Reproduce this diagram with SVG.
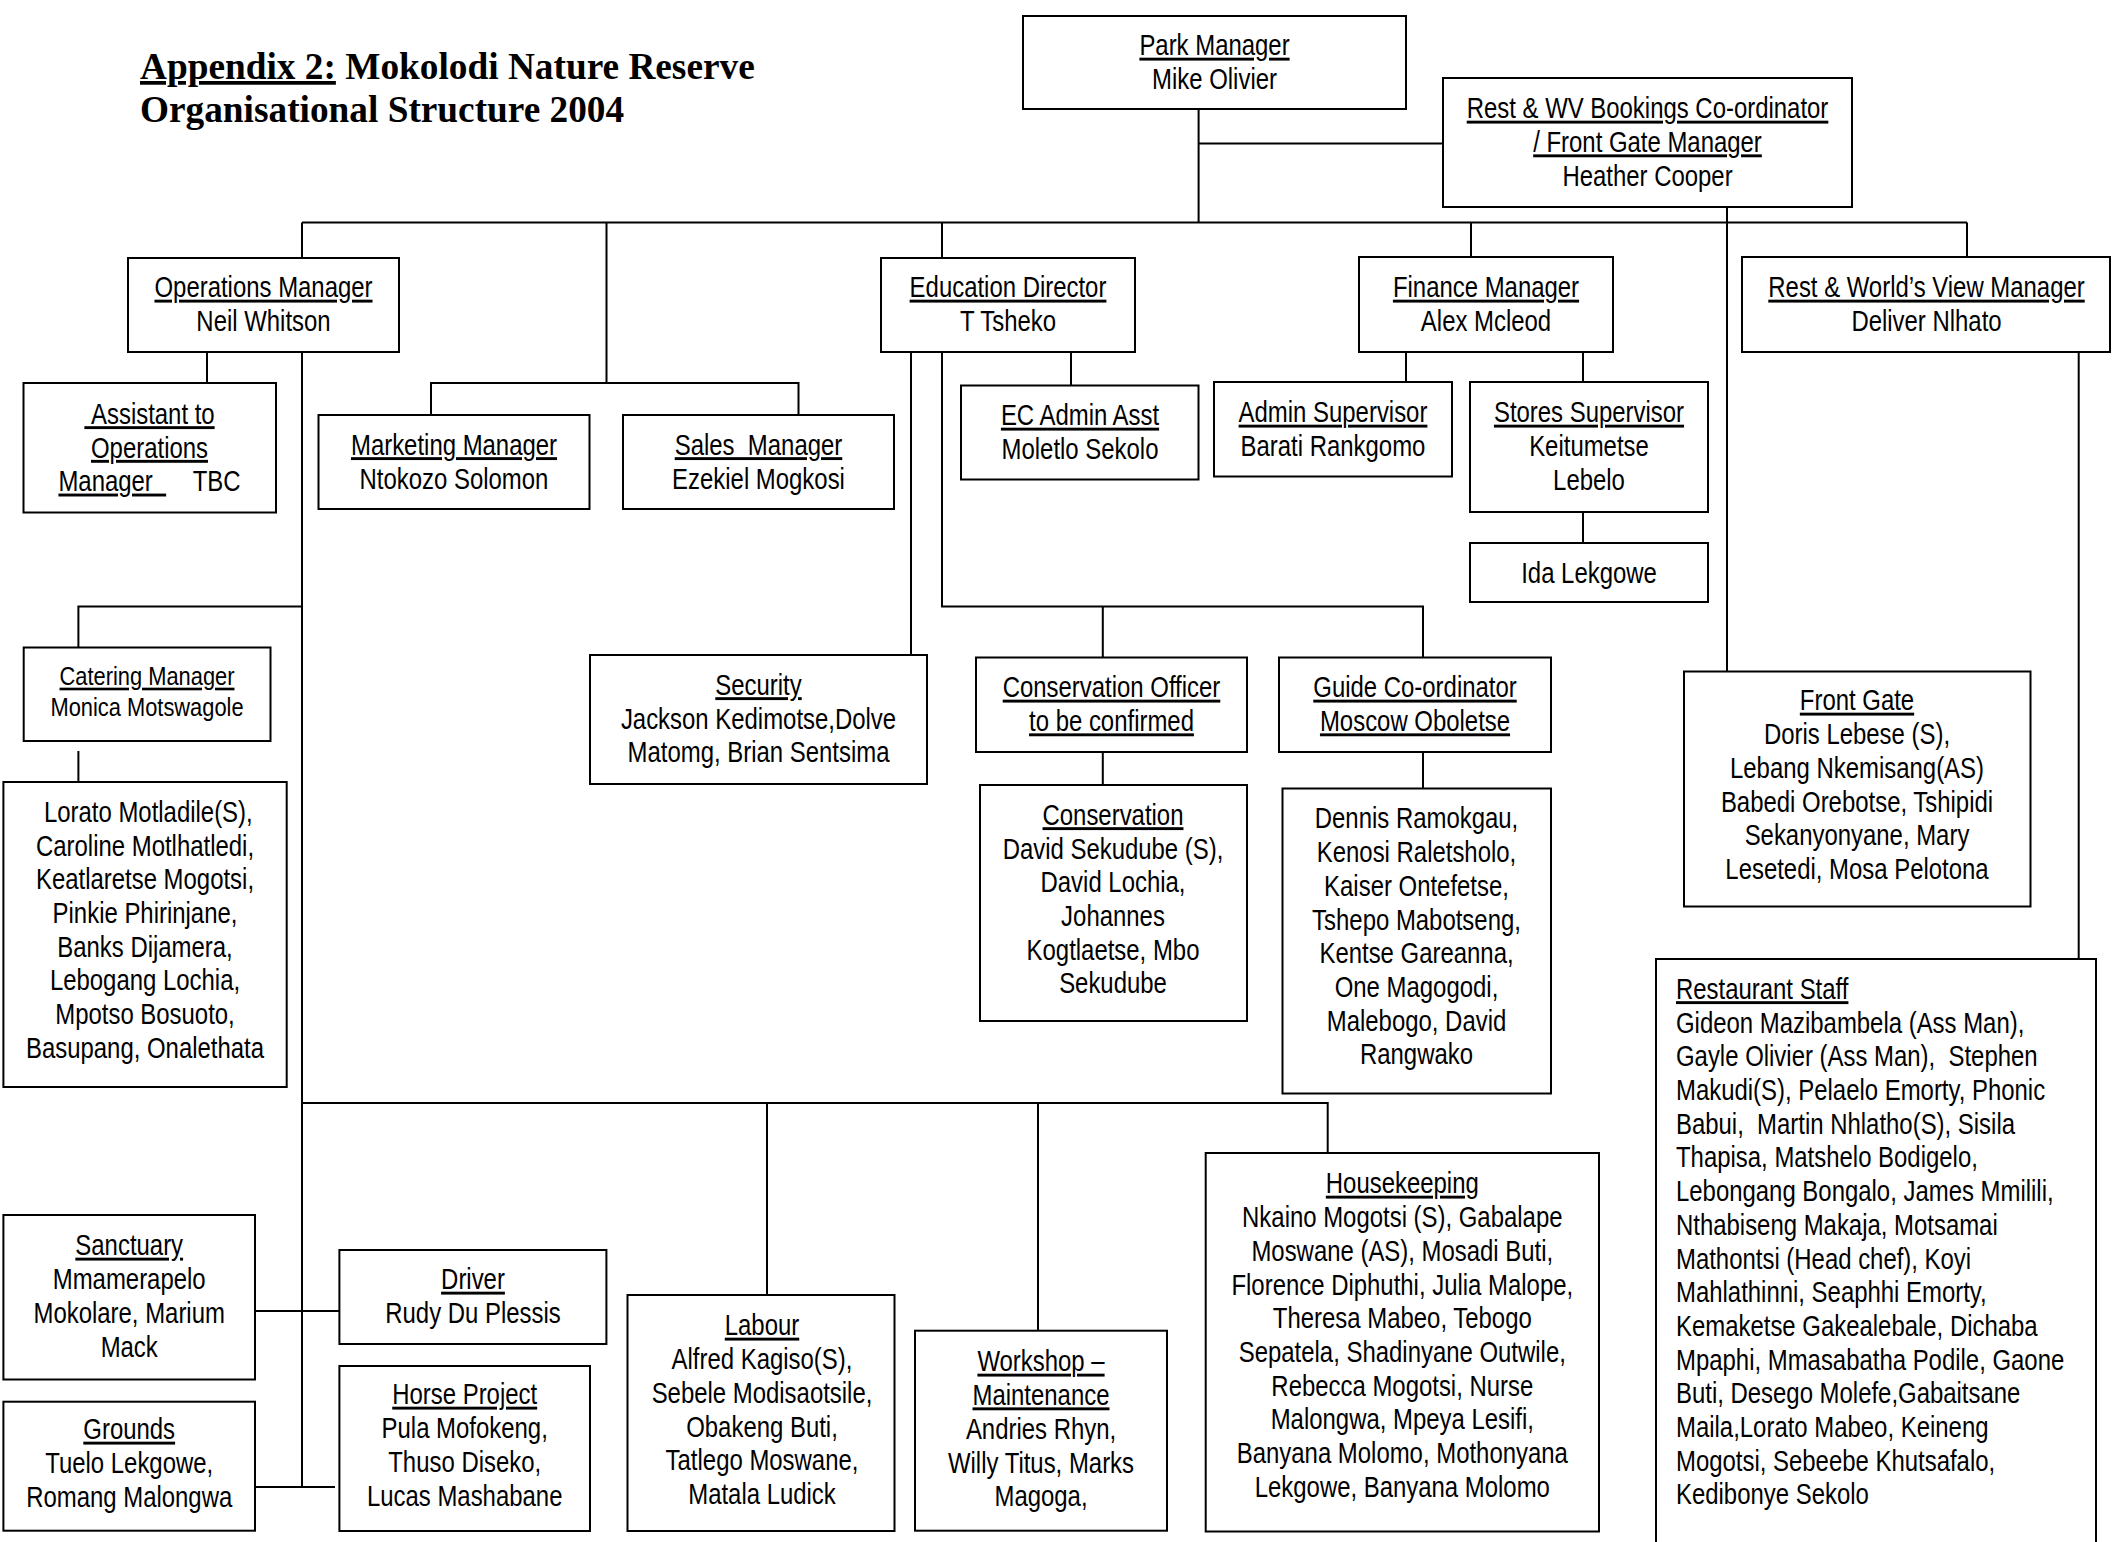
<svg xmlns="http://www.w3.org/2000/svg" width="2112" height="1542" viewBox="0 0 2112 1542">
<style>
.b{fill:#fff;stroke:#000;stroke-width:2}
.t{font-family:"Liberation Sans",Arial,sans-serif;font-size:29px;fill:#000;text-anchor:middle}
.l{text-anchor:start}
.s{font-size:26.5px}
.u{text-decoration:underline}
.ttl{font-family:"Liberation Serif","Times New Roman",serif;font-weight:bold;font-size:37.3px;fill:#000}
#connectors path{fill:none;stroke:#000;stroke-width:2}
</style>
<rect width="2112" height="1542" fill="#fff"/>
<g id="title">
<text class="ttl" x="140" y="79"><tspan class="u">Appendix 2:</tspan> Mokolodi Nature Reserve</text>
<text class="ttl" x="140" y="122">Organisational Structure 2004</text>
</g>
<g id="connectors">
<path d="M1198.6 109V222.5M1198.6 143.6H1443"/>
<path d="M302 222.5H1967"/>
<path d="M302 222.5V1487"/>
<path d="M606.5 222.5V383M431 415V383H798.5V415"/>
<path d="M942 222.5V258M1471 222.5V257M1967 222.5V257"/>
<path d="M1727 207V671"/>
<path d="M207 352V383"/>
<path d="M78.4 648V606.4H302M78.4 751V782"/>
<path d="M911 352V655"/>
<path d="M942 352V606.4H1423V657.5M1102.8 606.4V657.5"/>
<path d="M1071 352V385.5"/>
<path d="M1406 352V382M1583 352V382M1583 512V543"/>
<path d="M1102.8 752V785M1423 752V788.5"/>
<path d="M2078.7 352V959"/>
<path d="M302 1103H1327.7V1153M767 1103V1295M1038 1103V1330.7"/>
<path d="M252.7 1311H342.7M255 1487H335"/>
</g>
<g id="park-manager">
<rect class="b" x="1023" y="16" width="383" height="93"/>
<g transform="translate(1214.5 0) scale(0.825 1)">
<text class="t u" x="0" y="55.5">Park Manager</text>
<text class="t" x="0" y="89.2">Mike Olivier</text>
</g>
</g>
<g id="rest-wv-bookings">
<rect class="b" x="1443" y="78" width="409" height="129"/>
<g transform="translate(1647.5 0) scale(0.825 1)">
<text class="t u" x="0" y="118.5">Rest &amp; WV Bookings Co-ordinator</text>
<text class="t u" x="0" y="152.2">/ Front Gate Manager</text>
<text class="t" x="0" y="185.9">Heather Cooper</text>
</g>
</g>
<g id="operations-manager">
<rect class="b" x="128" y="258" width="271" height="94"/>
<g transform="translate(263.5 0) scale(0.825 1)">
<text class="t u" x="0" y="297.5">Operations Manager</text>
<text class="t" x="0" y="331.2">Neil Whitson</text>
</g>
</g>
<g id="education-director">
<rect class="b" x="881" y="258" width="254" height="94"/>
<g transform="translate(1008 0) scale(0.825 1)">
<text class="t u" x="0" y="297.5">Education Director</text>
<text class="t" x="0" y="331.2">T Tsheko</text>
</g>
</g>
<g id="finance-manager">
<rect class="b" x="1359" y="257" width="254" height="95"/>
<g transform="translate(1486 0) scale(0.825 1)">
<text class="t u" x="0" y="297.5">Finance Manager</text>
<text class="t" x="0" y="331.2">Alex Mcleod</text>
</g>
</g>
<g id="rest-worlds-view-manager">
<rect class="b" x="1742" y="257" width="368" height="95"/>
<g transform="translate(1926.5 0) scale(0.825 1)">
<text class="t u" x="0" y="297.5">Rest &amp; World’s View Manager</text>
<text class="t" x="0" y="331.2">Deliver Nlhato</text>
</g>
</g>
<g id="assistant-ops">
<rect class="b" x="23.5" y="383" width="252.5" height="129.5"/>
<g transform="translate(149.5 0) scale(0.825 1)">
<text class="t u" x="0" y="424">&#160;Assistant to</text>
<text class="t u" x="0" y="457.7">Operations</text>
<text class="t" x="0" y="491.4"><tspan class="u">Manager&#160;&#160;</tspan>&#160;&#160;&#160;&#160;TBC</text>
</g>
</g>
<g id="marketing-manager">
<rect class="b" x="318.5" y="415" width="271" height="94"/>
<g transform="translate(454 0) scale(0.825 1)">
<text class="t u" x="0" y="455">Marketing Manager</text>
<text class="t" x="0" y="488.7">Ntokozo Solomon</text>
</g>
</g>
<g id="sales-manager">
<rect class="b" x="623" y="415" width="271" height="94"/>
<g transform="translate(758.5 0) scale(0.825 1)">
<text class="t u" x="0" y="455">Sales&#160; Manager</text>
<text class="t" x="0" y="488.7">Ezekiel Mogkosi</text>
</g>
</g>
<g id="ec-admin-asst">
<rect class="b" x="961" y="385.5" width="237.5" height="94"/>
<g transform="translate(1080 0) scale(0.825 1)">
<text class="t u" x="0" y="425.5">EC Admin Asst</text>
<text class="t" x="0" y="459.2">Moletlo Sekolo</text>
</g>
</g>
<g id="admin-supervisor">
<rect class="b" x="1214" y="382" width="238" height="94.5"/>
<g transform="translate(1333 0) scale(0.825 1)">
<text class="t u" x="0" y="422.5">Admin Supervisor</text>
<text class="t" x="0" y="456.2">Barati Rankgomo</text>
</g>
</g>
<g id="stores-supervisor">
<rect class="b" x="1470" y="382" width="238" height="130"/>
<g transform="translate(1589 0) scale(0.825 1)">
<text class="t u" x="0" y="422.5">Stores Supervisor</text>
<text class="t" x="0" y="456.2">Keitumetse</text>
<text class="t" x="0" y="489.9">Lebelo</text>
</g>
</g>
<g id="ida-lekgowe">
<rect class="b" x="1470" y="543" width="238" height="59"/>
<g transform="translate(1589 0) scale(0.825 1)">
<text class="t" x="0" y="583.5">Ida Lekgowe</text>
</g>
</g>
<g id="catering-manager">
<rect class="b" x="23.7" y="647.5" width="246.8" height="93.5"/>
<g transform="translate(147 0) scale(0.825 1)">
<text class="t s u" x="0" y="685.5">Catering Manager</text>
<text class="t s" x="0" y="716">Monica Motswagole</text>
</g>
</g>
<g id="catering-staff">
<rect class="b" x="3.4" y="782" width="283.3" height="305"/>
<g transform="translate(145 0) scale(0.825 1)">
<text class="t" x="0" y="822">&#160;Lorato Motladile(S),</text>
<text class="t" x="0" y="855.7">Caroline Motlhatledi,</text>
<text class="t" x="0" y="889.4">Keatlaretse Mogotsi,</text>
<text class="t" x="0" y="923.1">Pinkie Phirinjane,</text>
<text class="t" x="0" y="956.8">Banks Dijamera,</text>
<text class="t" x="0" y="990.5">Lebogang Lochia,</text>
<text class="t" x="0" y="1024.2">Mpotso Bosuoto,</text>
<text class="t" x="0" y="1057.9">Basupang, Onalethata</text>
</g>
</g>
<g id="security">
<rect class="b" x="590" y="655" width="337" height="129"/>
<g transform="translate(758.5 0) scale(0.825 1)">
<text class="t u" x="0" y="695">Security</text>
<text class="t" x="0" y="728.7">Jackson Kedimotse,Dolve</text>
<text class="t" x="0" y="762.4">Matomg, Brian Sentsima</text>
</g>
</g>
<g id="conservation-officer">
<rect class="b" x="976" y="657.5" width="271" height="94.5"/>
<g transform="translate(1111.5 0) scale(0.825 1)">
<text class="t u" x="0" y="697.5">Conservation Officer</text>
<text class="t u" x="0" y="731.2">to be confirmed</text>
</g>
</g>
<g id="guide-coordinator">
<rect class="b" x="1279" y="657.5" width="272" height="94.5"/>
<g transform="translate(1415 0) scale(0.825 1)">
<text class="t u" x="0" y="697.5">Guide Co-ordinator</text>
<text class="t u" x="0" y="731.2">Moscow Oboletse</text>
</g>
</g>
<g id="conservation">
<rect class="b" x="980" y="785" width="267" height="236"/>
<g transform="translate(1113 0) scale(0.825 1)">
<text class="t u" x="0" y="825">Conservation</text>
<text class="t" x="0" y="858.7">David Sekudube (S),</text>
<text class="t" x="0" y="892.4">David Lochia,</text>
<text class="t" x="0" y="926.1">Johannes</text>
<text class="t" x="0" y="959.8">Kogtlaetse, Mbo</text>
<text class="t" x="0" y="993.5">Sekudube</text>
</g>
</g>
<g id="guides">
<rect class="b" x="1282.5" y="788.5" width="268.5" height="305"/>
<g transform="translate(1416.5 0) scale(0.825 1)">
<text class="t" x="0" y="828.5">Dennis Ramokgau,</text>
<text class="t" x="0" y="862.2">Kenosi Raletsholo,</text>
<text class="t" x="0" y="895.9">Kaiser Ontefetse,</text>
<text class="t" x="0" y="929.6">Tshepo Mabotseng,</text>
<text class="t" x="0" y="963.3">Kentse Gareanna,</text>
<text class="t" x="0" y="997">One Magogodi,</text>
<text class="t" x="0" y="1030.7">Malebogo, David</text>
<text class="t" x="0" y="1064.4">Rangwako</text>
</g>
</g>
<g id="front-gate">
<rect class="b" x="1684" y="671.5" width="346.5" height="235"/>
<g transform="translate(1857 0) scale(0.825 1)">
<text class="t u" x="0" y="710.5">Front Gate</text>
<text class="t" x="0" y="744.2">Doris Lebese (S),</text>
<text class="t" x="0" y="777.9">Lebang Nkemisang(AS)</text>
<text class="t" x="0" y="811.6">Babedi Orebotse, Tshipidi</text>
<text class="t" x="0" y="845.3">Sekanyonyane, Mary</text>
<text class="t" x="0" y="879">Lesetedi, Mosa Pelotona</text>
</g>
</g>
<g id="restaurant-staff">
<rect class="b" x="1656" y="959" width="440" height="620"/>
<g transform="translate(1676 0) scale(0.825 1)">
<text class="t l u" x="0" y="999">Restaurant Staff</text>
<text class="t l" x="0" y="1032.7">Gideon Mazibambela (Ass Man),</text>
<text class="t l" x="0" y="1066.4">Gayle Olivier (Ass Man),&#160; Stephen</text>
<text class="t l" x="0" y="1100.1">Makudi(S), Pelaelo Emorty, Phonic</text>
<text class="t l" x="0" y="1133.8">Babui,&#160; Martin Nhlatho(S), Sisila</text>
<text class="t l" x="0" y="1167.5">Thapisa, Matshelo Bodigelo,</text>
<text class="t l" x="0" y="1201.2">Lebongang Bongalo, James Mmilili,</text>
<text class="t l" x="0" y="1234.9">Nthabiseng Makaja, Motsamai</text>
<text class="t l" x="0" y="1268.6">Mathontsi (Head chef), Koyi</text>
<text class="t l" x="0" y="1302.3">Mahlathinni, Seaphhi Emorty,</text>
<text class="t l" x="0" y="1336">Kemaketse Gakealebale, Dichaba</text>
<text class="t l" x="0" y="1369.7">Mpaphi, Mmasabatha Podile, Gaone</text>
<text class="t l" x="0" y="1403.4">Buti, Desego Molefe,Gabaitsane</text>
<text class="t l" x="0" y="1437.1">Maila,Lorato Mabeo, Keineng</text>
<text class="t l" x="0" y="1470.8">Mogotsi, Sebeebe Khutsafalo,</text>
<text class="t l" x="0" y="1504.5">Kedibonye Sekolo</text>
</g>
</g>
<g id="sanctuary">
<rect class="b" x="3.4" y="1215" width="251.6" height="164.5"/>
<g transform="translate(129.2 0) scale(0.825 1)">
<text class="t u" x="0" y="1255.5">Sanctuary</text>
<text class="t" x="0" y="1289.2">Mmamerapelo</text>
<text class="t" x="0" y="1322.9">Mokolare, Marium</text>
<text class="t" x="0" y="1356.6">Mack</text>
</g>
</g>
<g id="grounds">
<rect class="b" x="3.4" y="1401.7" width="251.6" height="129"/>
<g transform="translate(129.2 0) scale(0.825 1)">
<text class="t u" x="0" y="1439.5">Grounds</text>
<text class="t" x="0" y="1473.2">Tuelo Lekgowe,</text>
<text class="t" x="0" y="1506.9">Romang Malongwa</text>
</g>
</g>
<g id="driver">
<rect class="b" x="339.4" y="1250" width="267" height="94"/>
<g transform="translate(473 0) scale(0.825 1)">
<text class="t u" x="0" y="1289.5">Driver</text>
<text class="t" x="0" y="1323.2">Rudy Du Plessis</text>
</g>
</g>
<g id="horse-project">
<rect class="b" x="339.4" y="1366" width="250.6" height="165"/>
<g transform="translate(464.7 0) scale(0.825 1)">
<text class="t u" x="0" y="1404.5">Horse Project</text>
<text class="t" x="0" y="1438.2">Pula Mofokeng,</text>
<text class="t" x="0" y="1471.9">Thuso Diseko,</text>
<text class="t" x="0" y="1505.6">Lucas Mashabane</text>
</g>
</g>
<g id="labour">
<rect class="b" x="627.5" y="1295" width="267" height="236"/>
<g transform="translate(762 0) scale(0.825 1)">
<text class="t u" x="0" y="1335.5">Labour</text>
<text class="t" x="0" y="1369.2">Alfred Kagiso(S),</text>
<text class="t" x="0" y="1402.9">Sebele Modisaotsile,</text>
<text class="t" x="0" y="1436.6">Obakeng Buti,</text>
<text class="t" x="0" y="1470.3">Tatlego Moswane,</text>
<text class="t" x="0" y="1504">Matala Ludick</text>
</g>
</g>
<g id="workshop">
<rect class="b" x="915" y="1330.7" width="252" height="200"/>
<g transform="translate(1041 0) scale(0.825 1)">
<text class="t u" x="0" y="1371.5">Workshop –</text>
<text class="t u" x="0" y="1405.2">Maintenance</text>
<text class="t" x="0" y="1438.9">Andries Rhyn,</text>
<text class="t" x="0" y="1472.6">Willy Titus, Marks</text>
<text class="t" x="0" y="1506.3">Magoga,</text>
</g>
</g>
<g id="housekeeping">
<rect class="b" x="1205.7" y="1153" width="393.3" height="378.5"/>
<g transform="translate(1402.3 0) scale(0.825 1)">
<text class="t u" x="0" y="1193.5">Housekeeping</text>
<text class="t" x="0" y="1227.2">Nkaino Mogotsi (S), Gabalape</text>
<text class="t" x="0" y="1260.9">Moswane (AS), Mosadi Buti,</text>
<text class="t" x="0" y="1294.6">Florence Diphuthi, Julia Malope,</text>
<text class="t" x="0" y="1328.3">Theresa Mabeo, Tebogo</text>
<text class="t" x="0" y="1362">Sepatela, Shadinyane Outwile,</text>
<text class="t" x="0" y="1395.7">Rebecca Mogotsi, Nurse</text>
<text class="t" x="0" y="1429.4">Malongwa, Mpeya Lesifi,</text>
<text class="t" x="0" y="1463.1">Banyana Molomo, Mothonyana</text>
<text class="t" x="0" y="1496.8">Lekgowe, Banyana Molomo</text>
</g>
</g>
</svg>
